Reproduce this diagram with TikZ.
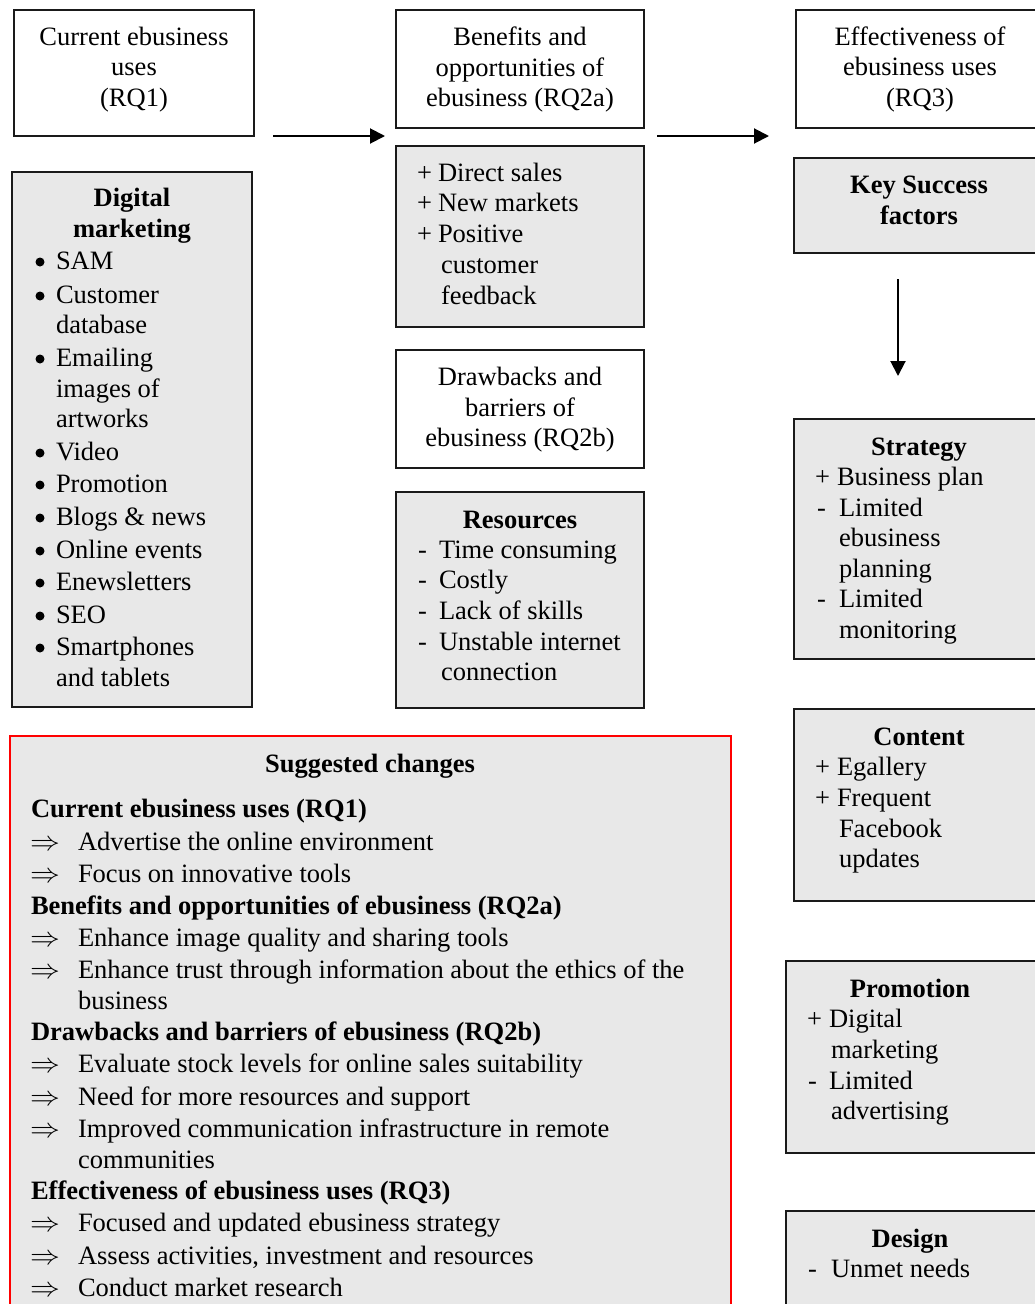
\documentclass[tikz,border=0pt]{standalone}
\usepackage{fontspec}
\setmainfont{Liberation Serif}
\usetikzlibrary{arrows.meta}
\definecolor{boxgray}{HTML}{E8E8E8}
\definecolor{boxline}{HTML}{1A1A1A}
\tikzset{
  frame/.style={draw=boxline,line width=1.6pt,anchor=north west,inner sep=0pt,outer sep=0pt},
  whitebox/.style={frame,fill=white},
  graybox/.style={frame,fill=boxgray},
  redbox/.style={draw=red,line width=1.6pt,fill=boxgray,anchor=north west,inner sep=0pt,outer sep=0pt},
  txt/.style={inner sep=0pt,outer sep=0pt,font=\fontsize{26.5}{31}\selectfont},
  bul/.style={circle,fill=black,inner sep=0pt,outer sep=0pt,minimum size=9pt},
  arr/.style={line width=2pt,-{Triangle[length=15pt,width=15pt]}}
}
\newcommand\tl[4]{\node[txt,anchor=base west] (#1) at (#2,#3+8) {#4};}
\newcommand\tc[4]{\node[txt,anchor=base] (#1) at (#2,#3+8) {#4};}
\newcommand\tb[4]{\node[txt,anchor=base,font=\fontsize{26.5}{31}\selectfont\bfseries] (#1) at (#2,#3+8) {#4};}
\newcommand\tbl[4]{\node[txt,anchor=base west,font=\fontsize{26.5}{31}\selectfont\bfseries] (#1) at (#2,#3+8) {#4};}
\begin{document}
\begin{tikzpicture}[x=1pt,y=-1pt]
\useasboundingbox (0,0) rectangle (1035,1304);
\clip (0,0) rectangle (1035,1304);
\fill[white] (0,0) rectangle (1035,1304);

% boxes
\node[whitebox,minimum width=240pt,minimum height=126pt] (b1) at (14,10) {};
\node[whitebox,minimum width=248pt,minimum height=118pt] (b2) at (396,10) {};
\node[whitebox,minimum width=260pt,minimum height=118pt] (b3) at (796,10) {};
\node[graybox,minimum width=260pt,minimum height=95pt] (ksf) at (794,158) {};
\node[graybox,minimum width=240pt,minimum height=535pt] (dm) at (12,172) {};
\node[graybox,minimum width=248pt,minimum height=181pt] (ben) at (396,146) {};
\node[whitebox,minimum width=248pt,minimum height=118pt] (drw) at (396,350) {};
\node[graybox,minimum width=248pt,minimum height=216pt] (res) at (396,492) {};
\node[graybox,minimum width=260pt,minimum height=240pt] (str) at (794,419) {};
\node[graybox,minimum width=260pt,minimum height=192pt] (con) at (794,709) {};
\node[graybox,minimum width=270pt,minimum height=192pt] (pro) at (786,961) {};
\node[graybox,minimum width=270pt,minimum height=130pt] (des) at (786,1211) {};
\node[redbox,minimum width=721pt,minimum height=620pt] (sug) at (10,736) {};

% arrows
\coordinate (a1s) at (273,136); \coordinate (a1e) at (385,136);
\coordinate (a2s) at (657,136); \coordinate (a2e) at (769,136);
\coordinate (a3s) at (898,279); \coordinate (a3e) at (898,376);
\draw[arr] (a1s) -- (a1e);
\draw[arr] (a2s) -- (a2e);
\draw[arr] (a3s) -- (a3e);

% box 1
\tc{b1a}{134}{37}{Current ebusiness}
\tc{b1b}{134}{67}{uses}
\tc{b1c}{134}{98}{(RQ1)}
% box 2
\tc{b2a}{520}{37}{Benefits and}
\tc{b2b}{520}{68}{opportunities of}
\tc{b2c}{520}{98}{ebusiness (RQ2a)}
% box 3
\tc{b3a}{920}{37}{Effectiveness of}
\tc{b3b}{920}{67}{ebusiness uses}
\tc{b3c}{920}{98}{(RQ3)}
% key success
\tb{ka}{919}{185}{Key Success}
\tb{kb}{919}{216}{factors}

% digital marketing
\tb{dma}{132}{198}{Digital}
\tb{dmb}{132}{229}{marketing}
\foreach \y/\t [count=\i] in {261/SAM,295/Customer,358/Emailing,452/Video,484/Promotion,517/Blogs \& news,550/Online events,582/Enewsletters,615/SEO,647/Smartphones}{
  \node[bul] (dmbul\i) at (40,\y+1) {};
  \node[txt,anchor=base west] (dmt\i) at (56,\y+8) {\t};
}
\tl{dmc1}{56}{325}{database}
\tl{dmc2}{56}{389}{images of}
\tl{dmc3}{56}{419}{artworks}
\tl{dmc4}{56}{678}{and tablets}

% benefits list
\tl{bnp1}{417}{173}{+}\tl{bn1}{438}{173}{Direct sales}
\tl{bnp2}{417}{203}{+}\tl{bn2}{438}{203}{New markets}
\tl{bnp3}{417}{234}{+}\tl{bn3}{438}{234}{Positive}
\tl{bn4}{441}{265}{customer}
\tl{bn5}{441}{296}{feedback}

% drawbacks
\tc{dra}{520}{377}{Drawbacks and}
\tc{drb}{520}{408}{barriers of}
\tc{drc}{520}{438}{ebusiness (RQ2b)}

% resources
\tb{rsh}{520}{520}{Resources}
\tl{rsd1}{418}{550}{-}\tl{rs1}{439}{550}{Time consuming}
\tl{rsd2}{418}{580}{-}\tl{rs2}{439}{580}{Costly}
\tl{rsd3}{418}{611}{-}\tl{rs3}{439}{611}{Lack of skills}
\tl{rsd4}{418}{642}{-}\tl{rs4}{439}{642}{Unstable internet}
\tl{rs5}{441}{672}{connection}

% strategy
\tb{sth}{919}{447}{Strategy}
\tl{stp1}{815}{477}{+}\tl{st1}{837}{477}{Business plan}
\tl{std2}{817}{508}{-}\tl{st2}{839}{508}{Limited}
\tl{st3}{839}{538}{ebusiness}
\tl{st4}{839}{569}{planning}
\tl{std5}{817}{599}{-}\tl{st5}{839}{599}{Limited}
\tl{st6}{839}{630}{monitoring}

% content
\tb{coh}{919}{737}{Content}
\tl{cop1}{815}{767}{+}\tl{co1}{837}{767}{Egallery}
\tl{cop2}{815}{798}{+}\tl{co2}{837}{798}{Frequent}
\tl{co3}{839}{829}{Facebook}
\tl{co4}{839}{859}{updates}

% promotion
\tb{prh}{910}{989}{Promotion}
\tl{prp1}{807}{1019}{+}\tl{pr1}{829}{1019}{Digital}
\tl{pr2}{831}{1050}{marketing}
\tl{prd3}{808}{1081}{-}\tl{pr3}{829}{1081}{Limited}
\tl{pr4}{831}{1111}{advertising}

% design
\tb{deh}{910}{1239}{Design}
\tl{ded1}{808}{1269}{-}\tl{de1}{831}{1269}{Unmet needs}

% suggested changes
\tb{sgh}{370}{764}{Suggested changes}
\tbl{sg1}{31}{809}{Current ebusiness uses (RQ1)}
\tbl{sg2}{31}{906}{Benefits and opportunities of ebusiness (RQ2a)}
\tbl{sg3}{31}{1032}{Drawbacks and barriers of ebusiness (RQ2b)}
\tbl{sg4}{31}{1191}{Effectiveness of ebusiness uses (RQ3)}
\foreach \y/\t [count=\i] in {842/Advertise the online environment,874/Focus on innovative tools,938/Enhance image quality and sharing tools,970/Enhance trust through information about the ethics of the,1064/Evaluate stock levels for online sales suitability,1097/Need for more resources and support,1129/Improved communication infrastructure in remote,1223/Focused and updated ebusiness strategy,1256/{Assess activities, investment and resources},1288/Conduct market research}{
  \node[txt,anchor=base west] (sgar\i) at (30,\y+8) {\scalebox{1.2}[1.1]{$\Rightarrow$}};
  \node[txt,anchor=base west] (sgt\i) at (78,\y+8) {\t};
}
\tl{sgc1}{78}{1001}{business}
\tl{sgc2}{78}{1160}{communities}
\end{tikzpicture}
\end{document}
